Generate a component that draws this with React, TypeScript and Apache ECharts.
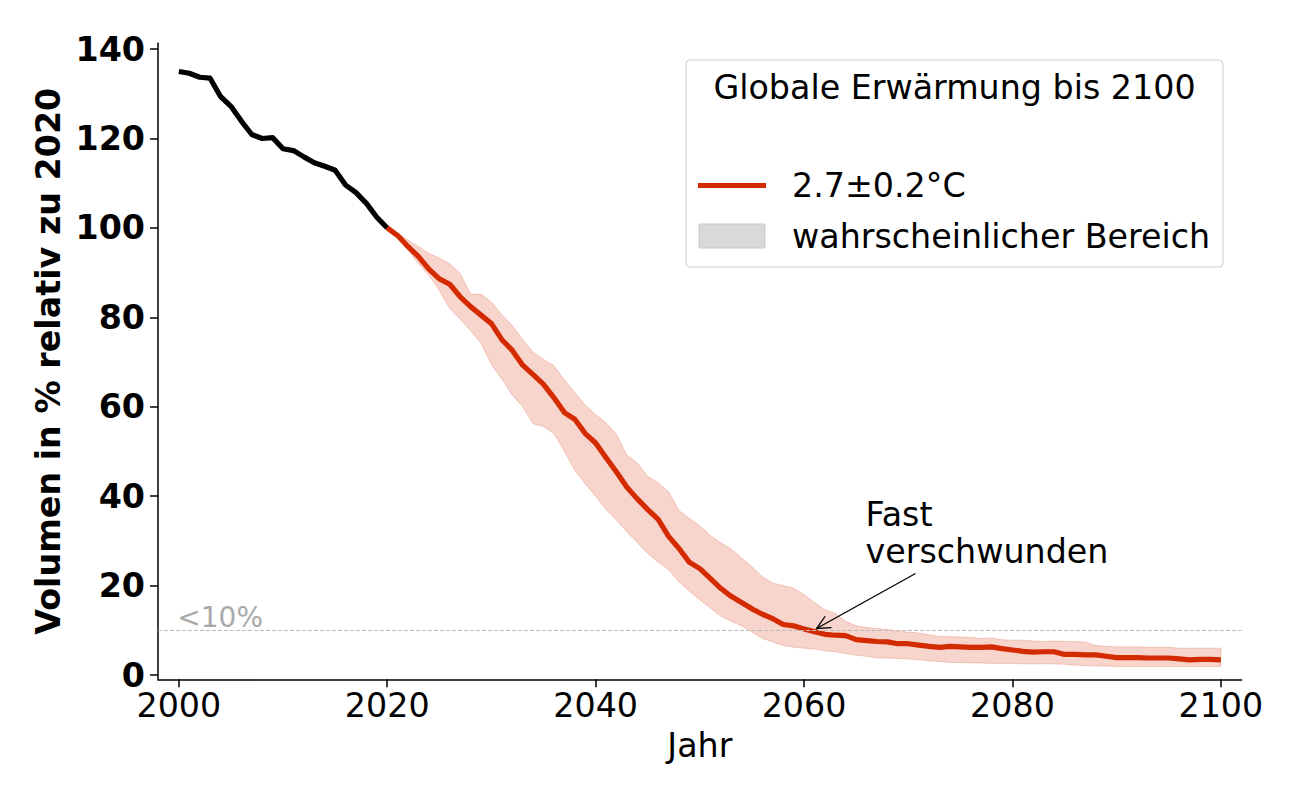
import React, { useEffect, useRef } from "react";
import * as echarts from "echarts";

// ---------- data ----------
const histYears = [2000, 2001, 2002, 2003, 2004, 2005, 2006, 2007, 2008, 2009, 2010, 2011, 2012, 2013, 2014, 2015, 2016, 2017, 2018, 2019, 2020];
const histVolume = [135.0, 134.6, 133.7, 133.5, 129.4, 127.2, 123.9, 120.9, 120.0, 120.2, 117.7, 117.3, 115.9, 114.6, 113.8, 112.9, 109.6, 107.9, 105.5, 102.4, 100.0];

const projYears = Array.from({ length: 81 }, (_, i) => 2020 + i);
const projMedian = [
  100.0, 98.3, 95.8, 93.6, 90.8, 88.6, 87.4, 84.6, 82.4, 80.5,
  78.6, 75.0, 72.6, 69.3, 67.2, 65.0, 62.0, 58.7, 57.2, 54.0,
  51.9, 48.6, 45.4, 42.0, 39.4, 37.0, 34.8, 31.0, 28.3, 25.2,
  23.8, 21.6, 19.4, 17.6, 16.2, 14.8, 13.6, 12.6, 11.3, 11.0,
  10.3, 9.7, 9.1, 8.9, 8.8, 7.9, 7.7, 7.5, 7.4, 7.0,
  7.0, 6.7, 6.4, 6.2, 6.4, 6.3, 6.2, 6.2, 6.3, 5.9,
  5.6, 5.3, 5.1, 5.2, 5.2, 4.6, 4.6, 4.5, 4.5, 4.2,
  3.9, 3.9, 3.9, 3.8, 3.8, 3.8, 3.6, 3.4, 3.5, 3.5,
  3.4,
];
const projUpper = [
  100.0, 98.8, 97.3, 95.8, 94.3, 93.3, 92.0, 89.8, 85.2, 85.2,
  83.4, 80.6, 78.2, 75.0, 72.2, 70.6, 69.2, 66.0, 63.2, 60.4,
  58.2, 56.4, 53.8, 49.2, 47.4, 44.4, 43.0, 41.0, 36.8, 35.0,
  33.4, 31.2, 29.6, 28.2, 26.2, 24.2, 22.0, 20.6, 20.0, 19.4,
  18.0, 16.2, 14.6, 13.8, 12.0, 11.0, 10.6, 10.4, 10.2, 9.8,
  9.6, 9.4, 9.0, 8.6, 8.6, 8.5, 8.4, 8.2, 8.3, 7.9,
  7.8, 7.8, 7.6, 7.5, 7.6, 7.5, 7.5, 7.4, 6.6, 6.4,
  6.3, 6.3, 6.3, 6.2, 6.2, 6.2, 6.0, 6.0, 6.0, 6.0,
  6.0,
];
const projLower = [
  100.0, 97.8, 95.0, 92.0, 89.4, 86.0, 82.0, 79.6, 77.0, 74.2,
  69.4, 66.2, 62.6, 60.0, 56.2, 55.6, 54.0, 50.0, 45.8, 42.8,
  40.0, 37.0, 34.6, 32.0, 29.6, 27.2, 25.2, 23.6, 20.8, 18.8,
  16.8, 15.0, 13.2, 12.0, 11.0, 9.6, 8.2, 7.4, 6.6, 6.2,
  6.0, 5.8, 5.4, 5.2, 4.8, 4.4, 4.2, 3.8, 3.8, 3.7,
  3.6, 3.4, 3.2, 3.0, 2.8, 2.8, 2.7, 2.7, 2.6, 2.6,
  2.6, 2.5, 2.5, 2.5, 2.5, 2.4, 2.2, 2.1, 2.0, 2.0,
  1.9, 1.9, 1.9, 1.9, 1.9, 1.9, 1.9, 1.9, 1.9, 1.9,
  1.9,
];

const xTicks = [2000, 2020, 2040, 2060, 2080, 2100];
const yTicks = [0, 20, 40, 60, 80, 100, 120, 140];
const threshold = 10;
const thresholdLabel = "<10%";
const annotationText = ["Fast", "verschwunden"];
const annotationTextAt = [2066, 25];
const arrowFrom = [2070.7, 22.7];
const arrowTo = [2061.2, 10.4];
const legendTitle = "Globale Erwärmung bis 2100";
const legendLine = "2.7±0.2°C";
const legendBand = "wahrscheinlicher Bereich";

const RED = "#d42a00";
const BAND = "rgba(214,40,0,0.2)";
const FONT = "DejaVu Sans";
const FS = 33.3;

export default function App() {
  const ref = useRef<HTMLDivElement>(null);

  useEffect(() => {
    if (!ref.current) return;
    const chart = echarts.init(ref.current, null, { renderer: "svg" });

    const histData = histYears.map((y, i) => [y, histVolume[i]]);
    const medData = projYears.map((y, i) => [y, projMedian[i]]);

    const option: any = {
      animation: false,
      textStyle: { fontFamily: FONT },
      grid: { left: 158, right: 58.3, top: 43.3, bottom: 120.7, containLabel: false },
      xAxis: {
        type: "value",
        min: 1998,
        max: 2102,
        name: "Jahr",
        nameLocation: "middle",
        nameGap: 50,
        nameTextStyle: { fontSize: FS, color: "#000", fontFamily: FONT },
        axisLine: { onZero: false, lineStyle: { color: "#000", width: 1.5 } },
        axisTick: { customValues: xTicks, length: 8, lineStyle: { color: "#000", width: 1.5 } },
        axisLabel: {
          customValues: xTicks,
          fontSize: FS,
          color: "#000",
          fontFamily: FONT,
          margin: 10,
          formatter: (v: number) => String(v),
        },
        splitLine: { show: false },
      },
      yAxis: {
        type: "value",
        min: -0.96,
        max: 141.3,
        name: "Volumen in % relativ zu 2020",
        nameLocation: "middle",
        nameGap: 91,
        nameTextStyle: { fontSize: FS, color: "#000", fontWeight: "bold", fontFamily: FONT },
        axisLine: { show: true, onZero: false, lineStyle: { color: "#000", width: 1.5 } },
        axisTick: { show: true, customValues: yTicks, length: 8, lineStyle: { color: "#000", width: 1.5 } },
        axisLabel: {
          customValues: yTicks,
          fontSize: FS,
          fontWeight: "bold",
          color: "#000",
          fontFamily: FONT,
          margin: 13,
          formatter: (v: number) => String(v),
        },
        splitLine: { show: false },
      },
      series: [
        {
          type: "custom",
          name: "band",
          z: 1,
          silent: true,
          data: [[2050, 50]],
          renderItem: (_params: any, api: any) => {
            const pts: number[][] = [];
            for (let i = 0; i < projYears.length; i++) pts.push(api.coord([projYears[i], projUpper[i]]));
            for (let i = projYears.length - 1; i >= 0; i--) pts.push(api.coord([projYears[i], projLower[i]]));
            return {
              type: "polygon",
              shape: { points: pts },
              style: { fill: BAND, stroke: BAND, lineWidth: 1 },
            };
          },
        },
        {
          type: "line",
          name: "hist",
          z: 3,
          data: histData,
          showSymbol: false,
          symbol: "none",
          lineStyle: { color: "#000", width: 5.2, cap: "butt", join: "round" },
          markLine: {
            silent: true,
            symbol: "none",
            label: { show: false },
            lineStyle: { color: "#bbbbbb", width: 1, type: [4, 2] },
            data: [{ yAxis: threshold }],
            z: 5,
          },
        },
        {
          type: "line",
          name: legendLine,
          z: 4,
          data: medData,
          showSymbol: false,
          symbol: "none",
          lineStyle: { color: RED, width: 5.2, cap: "butt", join: "round" },
        },
      ],
    };

    chart.setOption(option);

    const px = (p: number[]) => chart.convertToPixel({ gridIndex: 0 }, p) as number[];
    const tAt = px(annotationTextAt);
    const aFrom = px(arrowFrom);
    const aTo = px(arrowTo);
    const thr = px([2000, threshold]);

    const dx = aFrom[0] - aTo[0];
    const dy = aFrom[1] - aTo[1];
    const len = Math.hypot(dx, dy);
    const ux = dx / len;
    const uy = dy / len;
    const th = 0.45;
    const hl = 15;
    const rot = (a: number) => [
      aTo[0] + hl * (ux * Math.cos(a) - uy * Math.sin(a)),
      aTo[1] + hl * (ux * Math.sin(a) + uy * Math.cos(a)),
    ];
    const h1 = rot(th);
    const h2 = rot(-th);

    const txt = (x: number, y: number, text: string, extra: any = {}) => ({
      type: "text",
      x,
      y,
      silent: true,
      style: {
        text,
        fontSize: FS,
        fontFamily: FONT,
        fill: "#000",
        textAlign: "left",
        textVerticalAlign: "middle",
        ...extra,
      },
      z: 10,
    });

    chart.setOption({
      graphic: [
        txt(thr[0] - 1.5, thr[1] - 12.7, thresholdLabel, { fontSize: 28, fill: "#a9a9a9" }),
        txt(tAt[0] - 1, tAt[1] - 11.4 - 37.5, annotationText[0]),
        txt(tAt[0] - 1, tAt[1] - 11.4, annotationText[1]),
        {
          type: "line",
          silent: true,
          z: 10,
          shape: { x1: aFrom[0], y1: aFrom[1], x2: aTo[0], y2: aTo[1] },
          style: { stroke: "#000", lineWidth: 1.3 },
        },
        {
          type: "polyline",
          silent: true,
          z: 10,
          shape: { points: [h1, aTo, h2] },
          style: { stroke: "#000", lineWidth: 1.3, fill: "none" },
        },
        {
          type: "rect",
          silent: true,
          z: 9,
          shape: { x: 686, y: 60, width: 537, height: 207, r: 4 },
          style: { fill: "rgba(255,255,255,0.8)", stroke: "#cccccc", lineWidth: 1 },
        },
        txt(954.5, 87, legendTitle, { textAlign: "center" }),
        {
          type: "line",
          silent: true,
          z: 10,
          shape: { x1: 698, y1: 185.5, x2: 766, y2: 185.5 },
          style: { stroke: RED, lineWidth: 5 },
        },
        txt(792, 185.5, legendLine),
        {
          type: "rect",
          silent: true,
          z: 10,
          shape: { x: 699, y: 224, width: 66, height: 24 },
          style: { fill: "#d9d9d9", stroke: "#c8c8c8", lineWidth: 1 },
        },
        txt(792, 236.6, legendBand),
      ],
    });

    return () => chart.dispose();
  }, []);

  return (
    <div
      ref={ref}
      style={{ position: "fixed", left: 0, top: 0, width: 1300, height: 800, background: "#fff" }}
    />
  );
}
